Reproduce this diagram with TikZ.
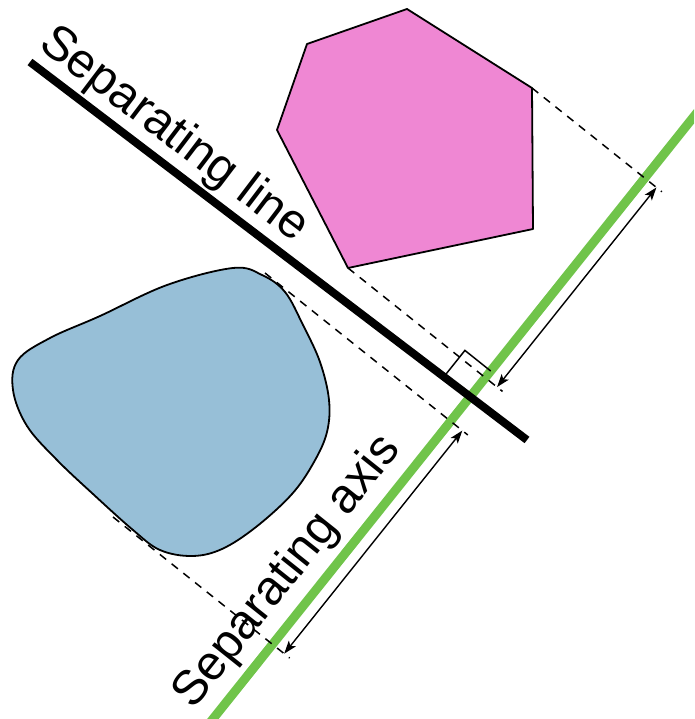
\documentclass[tikz,border=0pt]{standalone}
\usepackage{fontspec}
\setmainfont{Liberation Sans}
\usetikzlibrary{calc,arrows.meta}
\definecolor{pinkfill}{RGB}{239,135,211}
\definecolor{bluefill}{RGB}{151,191,215}
\definecolor{axisgreen}{RGB}{112,196,74}
\begin{document}
\begin{tikzpicture}[x=1pt,y=-1pt,
  outline/.style={draw=black,line width=1.8pt,line join=round},
  proj/.style={draw=black,line width=1.5pt,dash pattern=on 8pt off 7pt},
  measure/.style={draw=black,line width=1.4pt,{Stealth[length=13pt,width=9pt,inset=3pt]}-{Stealth[length=13pt,width=9pt,inset=3pt]}},
  txt/.style={font=\fontsize{48.5}{52}\selectfont,inner sep=0pt}
]
\useasboundingbox (0,0) rectangle (694,719);
\clip (0,0) rectangle (694,719);

% directions
\coordinate (u) at (0.6239,-0.7815);
\coordinate (d) at (0.7815,0.6239);
\coordinate (I) at (470.1,396.8);

% shapes
\draw[outline,fill=bluefill] plot[smooth cycle,tension=0.6] coordinates {
 (233,268) (262,275) (285,292) (303,325) (320,362) (329,400) (327,432)
 (314,462) (292,494) (256,527) (222,549) (192,556) (160,550) (133,530)
 (93,494) (57,460) (27,426) (13,390) (18,360) (50,338) (100,316) (167,285)};
\draw[outline,fill=pinkfill] (407,9) -- (532,88) -- (533,229) -- (348,268) -- (277,130) -- (307,44) -- cycle;

% extreme points
\coordinate (A) at (532,88);
\coordinate (B) at (348,268);
\coordinate (C) at (265,273);
\coordinate (D) at (113,517);

% axis
\coordinate (g1) at ($(I)-420*(u)$);
\coordinate (g2) at ($(I)+370*(u)$);
\draw[axisgreen,line width=9pt] (g1) -- (g2);

% projections
\foreach \p in {A,B,C,D}{
  \coordinate (f\p) at ($(g1)!(\p)!(g2)$);
  \coordinate (a\p) at ($(f\p)+15*(d)$);
  \coordinate (e\p) at ($(f\p)+22*(d)$);
  \draw[proj] (\p) -- (e\p);
}

% right angle mark
\coordinate (q1) at ($(I)-33*(d)$);
\coordinate (q2) at ($(I)-33*(d)+33*(u)$);
\coordinate (q3) at ($(I)+33*(u)$);
\draw[black,line width=1.5pt] (q1) -- (q2) -- (q3);

% separating line
\coordinate (L1) at (30,62);
\coordinate (L2) at (527,440);
\draw[black,line width=8pt] (L1) -- (L2);

% measurement arrows
\draw[measure] (aA) -- (aB);
\draw[measure] (aC) -- (aD);

% labels
\node[txt,rotate=-37.2,anchor=base west] (sepline) at (37,47) {Separating line};
\node[txt,rotate=51.4,anchor=base west] (sepaxis) at (193,711) {Separating axis};
\end{tikzpicture}
\end{document}
